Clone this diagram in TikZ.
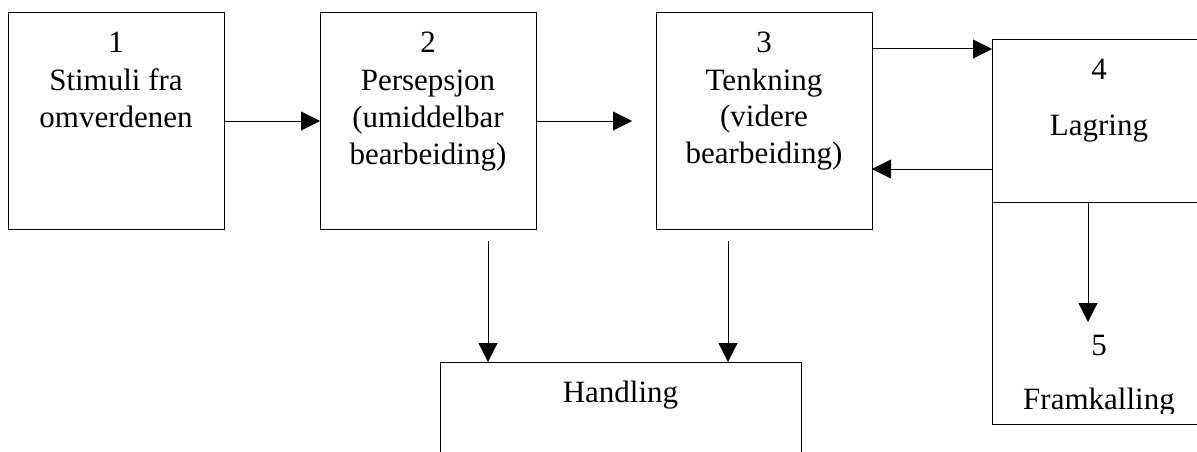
\documentclass[tikz,border=0pt]{standalone}
\usepackage{fontspec}
\setmainfont{Liberation Serif}
\usetikzlibrary{arrows.meta,calc}
\begin{document}
\begin{tikzpicture}[x=1pt,y=-1pt,
  box/.style={draw,line width=1pt,inner sep=0pt,outer sep=0pt,anchor=north west},
  lbl/.style={inner sep=0pt,anchor=base,font=\fontsize{31}{36}\selectfont},
  arr/.style={line width=1pt,-{Triangle[length=19pt,width=19pt]}}]
\useasboundingbox (0,0) rectangle (1197,452);
\clip (0,0) rectangle (1197,452);
% boxes
\node[box,minimum width=216pt,minimum height=216pt] (b1) at (8,13) {};
\node[box,minimum width=216pt,minimum height=216pt] (b2) at (320,13) {};
\node[box,minimum width=216pt,minimum height=216pt] (b3) at (656,13) {};
\node[box,minimum width=214pt,minimum height=162pt] (b4) at (992,40) {};
\node[box,minimum width=214pt,minimum height=222pt] (b5) at (992,202) {};
\node[box,minimum width=361pt,minimum height=150pt] (h) at (440,362) {};
% texts
\node[lbl] (t1a) at (116,53) {1};
\node[lbl] (t1b) at (116,90) {Stimuli fra};
\node[lbl] (t1c) at (116,128) {omverdenen};
\node[lbl] (t2a) at (428,53) {2};
\node[lbl] (t2b) at (428,90) {Persepsjon};
\node[lbl] (t2c) at (428,127) {(umiddelbar};
\node[lbl] (t2d) at (428,164) {bearbeiding)};
\node[lbl] (t3a) at (764,53) {3};
\node[lbl] (t3b) at (764,90) {Tenkning};
\node[lbl] (t3c) at (764,126) {(videre};
\node[lbl] (t3d) at (764,163) {bearbeiding)};
\node[lbl] (t4a) at (1099,80) {4};
\node[lbl] (t4b) at (1099,135) {Lagring};
\node[lbl] (t5a) at (1099,355) {5};
\begin{scope}
\clip (992,202) rectangle (1206,413);
\node[lbl] (t5b) at (1099,409) {Framkalling};
\end{scope}
\node[lbl] (th) at (620.5,402) {Handling};
% helper coordinates
\coordinate (r1) at (0,49);
\coordinate (r2) at (0,169);
\coordinate (d45) at (1088,322);
\coordinate (s2) at (488,241);
\coordinate (s3) at (728,241);
% arrows
\draw[arr] (b1.east) -- (b2.west);
\draw[arr,shorten >=24pt] (b2.east) -- (b3.west);
\draw[arr] (b3.east |- r1) -- (b4.west |- r1);
\draw[arr] (b4.west |- r2) -- (b3.east |- r2);
\draw[arr] (b4.south -| d45) -- (d45);
\draw[arr] (s2) -- (h.north -| s2);
\draw[arr] (s3) -- (h.north -| s3);
\end{tikzpicture}
\end{document}
